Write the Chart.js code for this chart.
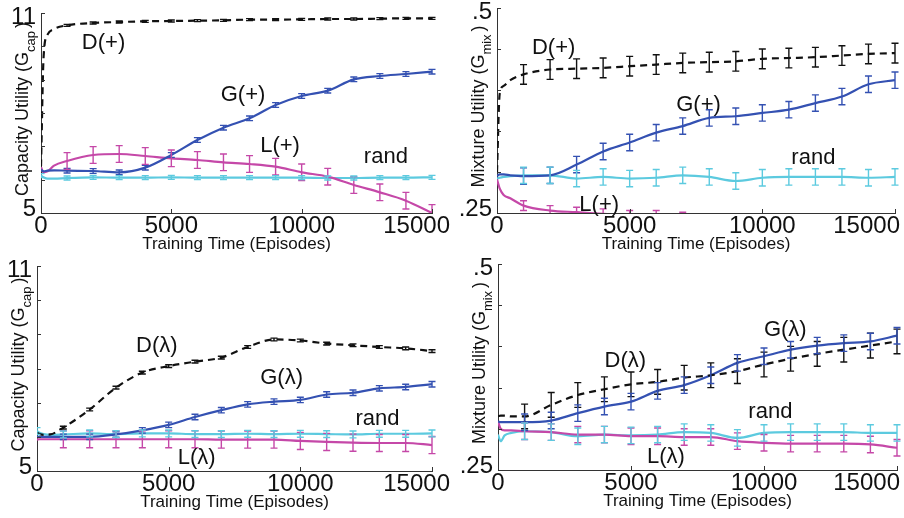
<!DOCTYPE html>
<html>
<head>
<meta charset="utf-8">
<script src="https://cdn.jsdelivr.net/npm/chart.js@4/dist/chart.umd.min.js"></script>
<style>
html, body { margin: 0; padding: 0; background: #fff; }
#wrap { position: relative; width: 904px; height: 518px; overflow: hidden; }
#wrap canvas { position: absolute; left: 0; top: 0; }
</style>
</head>
<body>
<div id="wrap">
  <canvas id="capPlus" width="904" height="518"></canvas>
  <canvas id="mixPlus" width="904" height="518"></canvas>
  <canvas id="capLam" width="904" height="518"></canvas>
  <canvas id="mixLam" width="904" height="518"></canvas>
</div>
<script>
// training episodes where the curves are sampled
var episodes = [0, 100, 250, 500, 1000, 2000, 3000, 4000, 5000, 6000, 7000, 8000, 9000, 10000, 11000, 12000, 13000, 14000, 15000];
// error bars are shown every 1000 episodes
var barEpisodes = [1000, 2000, 3000, 4000, 5000, 6000, 7000, 8000, 9000, 10000, 11000, 12000, 13000, 14000, 15000];
var xTicks = [0, 5000, 10000, 15000];

var capTicks = [5, 11];
var capMinor = [6, 7, 8, 9, 10];
var mixTicks = [0.25, 0.5];
var mixTickLabels = ['.25', '.5'];
var mixMinor = [0.3, 0.35, 0.4, 0.45];

// capacity utility, (+) agents
var capPlusD    = [6.4, 9.7, 10.35, 10.52, 10.63, 10.7, 10.73, 10.75, 10.76, 10.77, 10.78, 10.8, 10.8, 10.81, 10.82, 10.82, 10.83, 10.84, 10.84];
var capPlusG    = [6.3, 6.25, 6.27, 6.28, 6.27, 6.26, 6.22, 6.36, 6.74, 7.19, 7.56, 7.84, 8.24, 8.51, 8.67, 9.01, 9.11, 9.17, 9.24];
var capPlusL    = [6.37, 6.22, 6.25, 6.42, 6.56, 6.74, 6.77, 6.71, 6.64, 6.59, 6.52, 6.47, 6.39, 6.22, 6.09, 5.84, 5.62, 5.37, 5.0];
var capPlusRand = [6.12, 6.07, 6.03, 6.03, 6.05, 6.07, 6.06, 6.06, 6.07, 6.06, 6.06, 6.06, 6.06, 6.06, 6.05, 6.05, 6.06, 6.06, 6.07];

// mixture utility, (+) agents
var mixPlusD    = [0.30, 0.395, 0.405, 0.412, 0.419, 0.425, 0.426, 0.427, 0.429, 0.431, 0.433, 0.434, 0.435, 0.438, 0.439, 0.44, 0.442, 0.444, 0.445];
var mixPlusG    = [0.295, 0.297, 0.297, 0.296, 0.295, 0.296, 0.309, 0.325, 0.336, 0.348, 0.356, 0.366, 0.368, 0.372, 0.376, 0.384, 0.392, 0.407, 0.412];
var mixPlusL    = [0.291, 0.28, 0.272, 0.268, 0.259, 0.253, 0.251, 0.249, 0.247, 0.247, 0.245, 0.24, 0.238, 0.238, 0.238, 0.238, 0.238, 0.238, 0.238];
var mixPlusRand = [0.292, 0.293, 0.294, 0.295, 0.296, 0.296, 0.292, 0.294, 0.292, 0.293, 0.296, 0.294, 0.289, 0.293, 0.294, 0.294, 0.294, 0.293, 0.294];

// capacity utility, (lambda) agents
var capLamD    = [6.12, 6.08, 6.06, 6.07, 6.27, 6.8, 7.44, 7.88, 8.07, 8.2, 8.32, 8.63, 8.85, 8.82, 8.73, 8.68, 8.63, 8.59, 8.51];
var capLamG    = [6.0, 6.0, 6.0, 6.0, 6.0, 6.0, 6.07, 6.19, 6.35, 6.58, 6.78, 6.95, 7.03, 7.08, 7.24, 7.29, 7.42, 7.46, 7.54];
var capLamL    = [5.92, 5.93, 5.93, 5.93, 5.93, 5.93, 5.93, 5.93, 5.93, 5.93, 5.92, 5.92, 5.92, 5.88, 5.85, 5.83, 5.82, 5.82, 5.76];
var capLamRand = [6.17, 6.12, 6.08, 6.06, 6.07, 6.1, 6.08, 6.1, 6.1, 6.08, 6.08, 6.09, 6.08, 6.09, 6.08, 6.07, 6.09, 6.09, 6.1];

// mixture utility, (lambda) agents
var mixLamD    = [0.315, 0.316, 0.316, 0.315, 0.315, 0.329, 0.341, 0.348, 0.354, 0.357, 0.362, 0.365, 0.37, 0.378, 0.385, 0.391, 0.396, 0.401, 0.406];
var mixLamG    = [0.309, 0.308, 0.308, 0.308, 0.308, 0.31, 0.319, 0.327, 0.333, 0.346, 0.353, 0.365, 0.38, 0.388, 0.396, 0.401, 0.404, 0.406, 0.413];
var mixLamL    = [0.309, 0.3, 0.298, 0.298, 0.297, 0.296, 0.293, 0.293, 0.291, 0.291, 0.29, 0.29, 0.285, 0.283, 0.282, 0.282, 0.282, 0.281, 0.277];
var mixLamRand = [0.293, 0.285, 0.292, 0.295, 0.297, 0.296, 0.291, 0.293, 0.292, 0.293, 0.296, 0.295, 0.289, 0.295, 0.296, 0.296, 0.296, 0.295, 0.295];

// half-width of the error bars, one per curve (D, G, L, rand)
var capPlusErr = [0.03, 0.07, 0.25, 0.06];
var mixPlusErr = [0.012, 0.01, 0.006, 0.01];
var capLamErr  = [0.04, 0.08, 0.25, 0.1];
var mixLamErr  = [0.015, 0.01, 0.01, 0.01];

var FONT = '"Liberation Sans", Arial, Helvetica, sans-serif';
var BLACK = '#111111', BLUE = '#3451b2', MAGENTA = '#c548a8', CYAN = '#5ccadf';

function pts(vals) {
    return episodes.map(function(e, i) { return { x: e, y: vals[i] }; });
}

function curves(d, g, l, r, errs, randBars) {
    return [
        { data: pts(d), borderColor: BLACK, borderDash: [7, 5], err: errs[0], bars: barEpisodes },
        { data: pts(g), borderColor: BLUE, err: errs[1], bars: barEpisodes },
        { data: pts(l), borderColor: MAGENTA, err: errs[2], bars: barEpisodes },
        { data: pts(r), borderColor: CYAN, err: errs[3], bars: randBars }
    ];
}

var paperPlugin = {
    id: 'paper',
    afterDatasetsDraw: function(chart) {
        var ctx = chart.ctx, xs = chart.scales.x, ys = chart.scales.y, a = chart.chartArea;
        ctx.save();
        ctx.beginPath();
        ctx.rect(a.left, a.top - 2, a.right - a.left + 4, a.bottom - a.top + 2);
        ctx.clip();
        ctx.lineWidth = 1.4;
        ctx.setLineDash([]);
        chart.data.datasets.forEach(function(ds) {
            ctx.strokeStyle = ds.borderColor;
            ds.bars.forEach(function(ep) {
                var pt = ds.data[episodes.indexOf(ep)];
                var px = xs.getPixelForValue(pt.x);
                var t = ys.getPixelForValue(pt.y + ds.err), b = ys.getPixelForValue(pt.y - ds.err);
                ctx.beginPath();
                ctx.moveTo(px, t); ctx.lineTo(px, b);
                ctx.moveTo(px - 3.5, t); ctx.lineTo(px + 3.5, t);
                ctx.moveTo(px - 3.5, b); ctx.lineTo(px + 3.5, b);
                ctx.stroke();
            });
        });
        ctx.restore();
    },
    afterDraw: function(chart) {
        var o = chart.options.plugins.paper;
        var ctx = chart.ctx, xs = chart.scales.x, ys = chart.scales.y, a = chart.chartArea;
        ctx.save();
        ctx.fillStyle = BLACK;
        ctx.strokeStyle = '#333';
        ctx.lineWidth = 1;
        // inward tick marks
        o.yTicks.concat(o.yMinor).forEach(function(v) {
            var py = Math.round(ys.getPixelForValue(v)) + 0.5;
            ctx.beginPath(); ctx.moveTo(a.left, py); ctx.lineTo(a.left + 4, py); ctx.stroke();
        });
        xTicks.forEach(function(v) {
            var px = Math.round(xs.getPixelForValue(v)) + 0.5;
            ctx.beginPath(); ctx.moveTo(px, a.bottom); ctx.lineTo(px, a.bottom - 4); ctx.stroke();
        });
        // tick labels
        ctx.font = '24px ' + FONT;
        ctx.textAlign = 'right';
        ctx.textBaseline = 'middle';
        o.yTicks.forEach(function(v, i) {
            var py = ys.getPixelForValue(v);
            py += (i === 0) ? -4 : 4;
            ctx.fillText(o.yTickLabels[i], a.left - 5, py);
        });
        ctx.textAlign = 'center';
        ctx.textBaseline = 'top';
        xTicks.forEach(function(v) {
            var txt = String(v);
            var w = ctx.measureText(txt).width;
            var px = xs.getPixelForValue(v);
            px = Math.min(px, a.right + 18 - w / 2, chart.width - 4 - w / 2);
            ctx.fillText(txt, px, a.bottom + 1);
        });
        // x title
        ctx.font = '17px ' + FONT;
        ctx.textBaseline = 'alphabetic';
        ctx.fillText('Training Time (Episodes)', (a.left + a.right) / 2, a.bottom + 36);
        // y title with subscript
        var main = o.yTitle + ' (G', sub = o.ySub;
        ctx.font = '18px ' + FONT;
        var w1 = ctx.measureText(main).width, w3 = ctx.measureText(')').width;
        ctx.font = '13px ' + FONT;
        var w2 = ctx.measureText(sub).width;
        var total = w1 + w2 + w3 + 3;
        ctx.translate(a.left - 13, (a.top + a.bottom) / 2 - 4);
        ctx.rotate(-Math.PI / 2);
        ctx.textAlign = 'left';
        ctx.font = '18px ' + FONT;
        ctx.fillText(main, -total / 2, 0);
        ctx.font = '13px ' + FONT;
        ctx.fillText(sub, -total / 2 + w1, 7);
        ctx.font = '18px ' + FONT;
        ctx.fillText(')', -total / 2 + w1 + w2 + 3, 0);
        ctx.restore();
        // curve names
        ctx.save();
        ctx.fillStyle = BLACK;
        ctx.font = '22px ' + FONT;
        ctx.textAlign = 'center';
        ctx.textBaseline = 'middle';
        o.notes.forEach(function(n) {
            ctx.fillText(n.text, xs.getPixelForValue(n.x), ys.getPixelForValue(n.y));
        });
        ctx.restore();
    }
};

function makeChart(id, area, yMin, yMax, datasets, opts) {
    new Chart(document.getElementById(id), {
        type: 'line',
        data: { datasets: datasets },
        plugins: [paperPlugin],
        options: {
            responsive: false,
            animation: false,
            events: [],
            layout: { padding: { left: area[0], top: area[1], right: 904 - area[2], bottom: 518 - area[3] } },
            datasets: {
                line: { borderWidth: 2.2, pointRadius: 0, fill: false, cubicInterpolationMode: 'monotone' }
            },
            scales: {
                x: {
                    type: 'linear', min: 0, max: 15000,
                    grid: { display: false, drawTicks: false },
                    border: { display: true, color: '#333', width: 1 },
                    ticks: { display: false },
                    afterFit: function(s) { s.height = 0; s.paddingLeft = 0; s.paddingRight = 0; }
                },
                y: {
                    type: 'linear', min: yMin, max: yMax,
                    grid: { display: false, drawTicks: false },
                    border: { display: true, color: '#333', width: 1 },
                    ticks: { display: false },
                    afterFit: function(s) { s.width = 0; s.paddingTop = 0; s.paddingBottom = 0; }
                }
            },
            plugins: {
                legend: { display: false },
                tooltip: { enabled: false },
                paper: opts
            }
        }
    });
}

makeChart('capPlus', [41, 13, 432, 213], 5, 11,
    curves(capPlusD, capPlusG, capPlusL, capPlusRand, capPlusErr, [0].concat(barEpisodes)),
    { yTicks: capTicks, yTickLabels: ['5', '11'], yMinor: capMinor, yTitle: 'Capacity Utility', ySub: 'cap',
      notes: [ { text: 'D(+)', x: 2400, y: 10.1 }, { text: 'G(+)', x: 7750, y: 8.54 },
               { text: 'L(+)', x: 9170, y: 7.0 }, { text: 'rand', x: 13230, y: 6.68 } ] });

makeChart('mixPlus', [497, 8, 895, 213], 0.25, 0.5,
    curves(mixPlusD, mixPlusG, mixPlusL, mixPlusRand, mixPlusErr, barEpisodes),
    { yTicks: mixTicks, yTickLabels: mixTickLabels, yMinor: mixMinor, yTitle: 'Mixture Utility', ySub: 'mix',
      notes: [ { text: 'D(+)', x: 2134, y: 0.451 }, { text: 'G(+)', x: 7594, y: 0.382 },
               { text: 'L(+)', x: 3853, y: 0.2602 }, { text: 'rand', x: 11924, y: 0.317 } ] });

makeChart('capLam', [37, 266, 432, 471], 5, 11,
    curves(capLamD, capLamG, capLamL, capLamRand, capLamErr, [0].concat(barEpisodes)),
    { yTicks: capTicks, yTickLabels: ['5', '11'], yMinor: capMinor, yTitle: 'Capacity Utility', ySub: 'cap',
      notes: [ { text: 'D(\u03bb)', x: 4550, y: 8.66 }, { text: 'G(\u03bb)', x: 9290, y: 7.73 },
               { text: 'L(\u03bb)', x: 6066, y: 5.39 }, { text: 'rand', x: 12930, y: 6.51 } ] });

makeChart('mixLam', [498, 264, 897, 470], 0.25, 0.5,
    curves(mixLamD, mixLamG, mixLamL, mixLamRand, mixLamErr, barEpisodes),
    { yTicks: mixTicks, yTickLabels: mixTickLabels, yMinor: mixMinor, yTitle: 'Mixture Utility', ySub: 'mix',
      notes: [ { text: 'D(\u03bb)', x: 4787, y: 0.382 }, { text: 'G(\u03bb)', x: 10800, y: 0.42 },
               { text: 'L(\u03bb)', x: 6316, y: 0.266 }, { text: 'rand', x: 10240, y: 0.32 } ] });
</script>
</body>
</html>
